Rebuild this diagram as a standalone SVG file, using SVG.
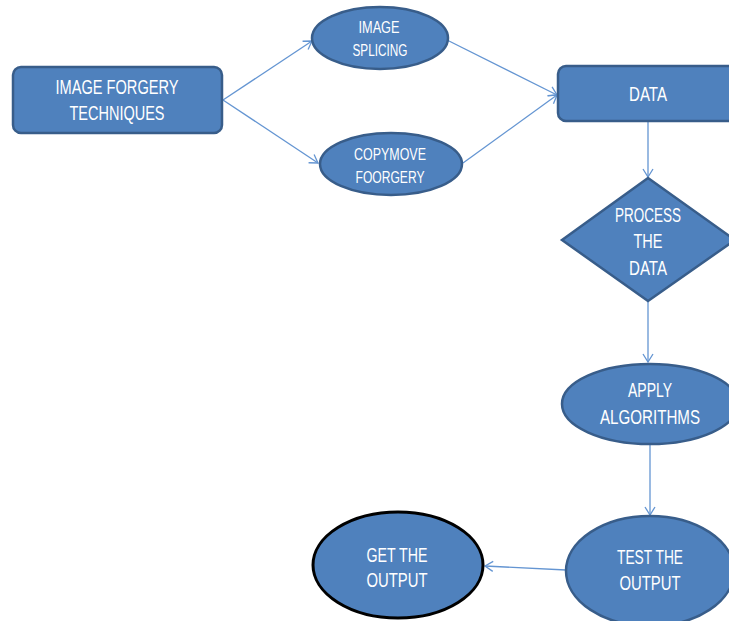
<svg xmlns="http://www.w3.org/2000/svg" width="729" height="621" viewBox="0 0 729 621">
<style>
.n{fill:#4F81BD;stroke:#385D8A;stroke-width:2.5}
.t{fill:#ffffff;font-family:"Liberation Sans",Arial,sans-serif;font-size:20px;text-anchor:middle}
.s{font-size:16px}
.c{stroke:#6495D2;stroke-width:1.3;fill:none;marker-end:url(#a)}
</style>
<defs>
<marker id="a" markerWidth="12" markerHeight="12" refX="10" refY="6" orient="auto" markerUnits="userSpaceOnUse">
<path d="M2,1 L10,6 L2,11" fill="none" stroke="#6495D2" stroke-width="1.3"/>
</marker>
</defs>
<rect width="729" height="621" fill="#ffffff"/>
<g id="connectors">
<line class="c" x1="223" y1="100" x2="312" y2="41"/>
<line class="c" x1="223" y1="100" x2="318" y2="163"/>
<line class="c" x1="447" y1="40" x2="557" y2="95"/>
<line class="c" x1="463" y1="163" x2="557" y2="95"/>
<line class="c" x1="648" y1="121" x2="648" y2="177"/>
<line class="c" x1="648" y1="301" x2="648" y2="362"/>
<line class="c" x1="650" y1="444" x2="650" y2="515"/>
<line class="c" x1="566" y1="570" x2="485" y2="566"/>
</g>
<g id="n1">
<rect class="n" x="13" y="67" width="209" height="66" rx="8"/>
<text class="t" x="117" y="94" textLength="123" lengthAdjust="spacingAndGlyphs">IMAGE FORGERY</text>
<text class="t" x="117" y="120" textLength="95" lengthAdjust="spacingAndGlyphs">TECHNIQUES</text>
</g>
<g id="n2">
<ellipse class="n" cx="380" cy="38" rx="68" ry="31"/>
<text class="t s" x="379" y="33" textLength="41" lengthAdjust="spacingAndGlyphs">IMAGE</text>
<text class="t s" x="380" y="56" textLength="55" lengthAdjust="spacingAndGlyphs">SPLICING</text>
</g>
<g id="n3">
<ellipse class="n" cx="391" cy="164" rx="71" ry="31"/>
<text class="t s" x="390" y="160" textLength="72" lengthAdjust="spacingAndGlyphs">COPYMOVE</text>
<text class="t s" x="390" y="183" textLength="69" lengthAdjust="spacingAndGlyphs">FOORGERY</text>
</g>
<g id="n4">
<rect class="n" x="558" y="66" width="185" height="55" rx="8"/>
<text class="t" x="648" y="101" textLength="38" lengthAdjust="spacingAndGlyphs">DATA</text>
</g>
<g id="n5">
<polygon class="n" points="648,178 735,240 648,301 562,240"/>
<text class="t" x="648" y="222" textLength="66" lengthAdjust="spacingAndGlyphs">PROCESS</text>
<text class="t" x="648" y="248" textLength="29" lengthAdjust="spacingAndGlyphs">THE</text>
<text class="t" x="648" y="275" textLength="38" lengthAdjust="spacingAndGlyphs">DATA</text>
</g>
<g id="n6">
<ellipse class="n" cx="650" cy="404" rx="88" ry="40"/>
<text class="t" x="650" y="397" textLength="44" lengthAdjust="spacingAndGlyphs">APPLY</text>
<text class="t" x="650" y="424" textLength="100" lengthAdjust="spacingAndGlyphs">ALGORITHMS</text>
</g>
<g id="n7">
<ellipse class="n" cx="650" cy="571" rx="84" ry="55"/>
<text class="t" x="650" y="564" textLength="66" lengthAdjust="spacingAndGlyphs">TEST THE</text>
<text class="t" x="650" y="590" textLength="61" lengthAdjust="spacingAndGlyphs">OUTPUT</text>
</g>
<g id="n8">
<ellipse cx="398" cy="565" rx="85" ry="53" fill="#4F81BD" stroke="#000000" stroke-width="3"/>
<text class="t" x="397" y="562" textLength="61" lengthAdjust="spacingAndGlyphs">GET THE</text>
<text class="t" x="397" y="587" textLength="61" lengthAdjust="spacingAndGlyphs">OUTPUT</text>
</g>
</svg>
